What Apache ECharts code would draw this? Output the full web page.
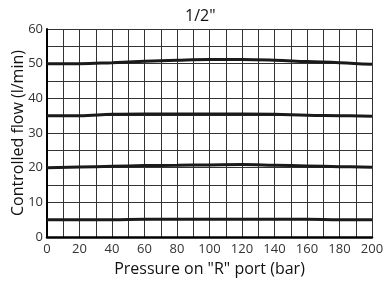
<!DOCTYPE html>
<html>
<head>
<meta charset="utf-8">
<script src="https://cdn.jsdelivr.net/npm/echarts@6/dist/echarts.min.js"></script>
<style>
  html, body { margin: 0; padding: 0; background: #fff; }
  #chart { width: 384px; height: 281px; }
</style>
</head>
<body>
<div id="chart"></div>
<script>
// pressure (bar) on the x axis
const pressure = [0, 20, 40, 60, 80, 100, 120, 140, 160, 180, 200];

// controlled flow (l/min), one curve per setting
const flow50 = [50.0, 50.0, 50.3, 50.7, 51.0, 51.2, 51.2, 51.0, 50.6, 50.3, 49.8];
const flow35 = [35.0, 35.0, 35.4, 35.5, 35.5, 35.5, 35.5, 35.4, 35.1, 35.0, 34.8];
const flow20 = [20.0, 20.2, 20.4, 20.6, 20.7, 20.8, 20.9, 20.7, 20.5, 20.3, 20.1];
const flow5 = [5.0, 5.0, 5.0, 5.1, 5.1, 5.1, 5.1, 5.1, 5.1, 5.0, 5.0];

const xTicks = [0, 20, 40, 60, 80, 100, 120, 140, 160, 180, 200];
const yTicks = [0, 10, 20, 30, 40, 50, 60];

const font = 'Open Sans, DejaVu Sans, sans-serif';

function pairs(ys) {
  return pressure.map((p, i) => [p, ys[i]]);
}

function curve(ys) {
  return {
    type: 'line',
    data: pairs(ys),
    smooth: 0.4,
    symbol: 'none',
    lineStyle: { color: '#1a1a1a', width: 3 },
  };
}

const chart = echarts.init(document.getElementById('chart'));

chart.setOption({
  animation: false,
  title: {
    text: '1/2"',
    left: 180,
    top: 3,
    textStyle: { fontFamily: font, fontSize: 16, fontWeight: 'normal', color: '#111' },
  },
  grid: { left: 47, right: 12, top: 29, bottom: 44, outerBoundsMode: 'none' },
  xAxis: {
    type: 'value',
    min: 0,
    max: 200,
    interval: 10,
    name: 'Pressure on "R" port (bar)',
    nameLocation: 'middle',
    nameGap: 24,
    nameMoveOverlap: false,
    nameTextStyle: { fontFamily: font, fontSize: 16, color: '#111' },
    axisLine: { lineStyle: { color: '#000', width: 2.5 } },
    axisTick: { show: false },
    axisLabel: {
      fontFamily: font,
      fontSize: 13,
      color: '#333',
      margin: 6,
      formatter: v => (xTicks.includes(v) ? String(v) : ''),
    },
    splitLine: { lineStyle: { color: '#333', width: 1 } },
  },
  yAxis: {
    type: 'value',
    min: 0,
    max: 60,
    interval: 5,
    name: 'Controlled flow (l/min)',
    nameLocation: 'middle',
    nameGap: 21,
    nameMoveOverlap: false,
    nameTextStyle: { fontFamily: font, fontSize: 16, color: '#111' },
    axisLine: { show: true, lineStyle: { color: '#000', width: 2 } },
    axisTick: { show: false },
    axisLabel: {
      fontFamily: font,
      fontSize: 13,
      color: '#333',
      margin: 4,
      formatter: v => (yTicks.includes(v) ? String(v) : ''),
    },
    splitLine: { lineStyle: { color: '#333', width: 1 } },
  },
  series: [curve(flow50), curve(flow35), curve(flow20), curve(flow5)],
});
</script>
</body>
</html>
